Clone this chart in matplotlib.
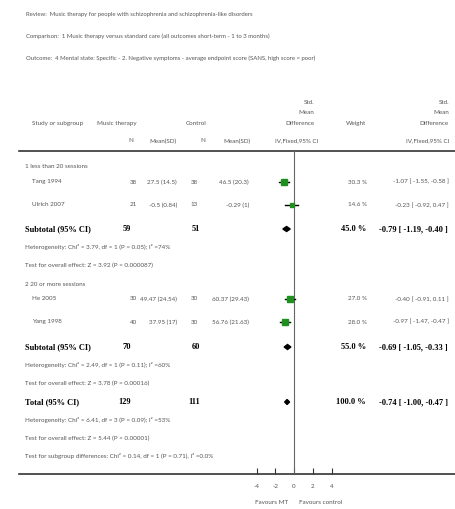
import matplotlib
matplotlib.use('Agg')
import matplotlib.pyplot as plt
from matplotlib.patches import Polygon

# studies
studies = ['Tang 1994', 'Ulrich 2007', 'He 2005', 'Yang 1998']
mt_n = [38, 21, 30, 40]
mt_mean_sd = ['27.5 (14.5)', '-0.5 (0.84)', '49.47 (24.54)', '37.95 (17)']
ctl_n = [38, 13, 30, 30]
ctl_mean_sd = ['46.5 (20.3)', '-0.29 (1)', '60.37 (29.43)', '56.76 (21.63)']
smd = [-1.07, -0.23, -0.40, -0.97]
ci_lo = [-1.55, -0.92, -0.91, -1.47]
ci_hi = [-0.58, 0.47, 0.11, -0.47]
weight = [30.3, 14.6, 27.0, 28.0]

# subtotals + total
pooled_names = ['Subtotal (95% CI)', 'Subtotal (95% CI)', 'Total (95% CI)']
pooled_mt_n = [59, 70, 129]
pooled_ctl_n = [51, 60, 111]
pooled_smd = [-0.79, -0.69, -0.74]
pooled_lo = [-1.19, -1.05, -1.00]
pooled_hi = [-0.40, -0.33, -0.47]
pooled_w = [45.0, 55.0, 100.0]

groups = ['1 less than 20 sessions', '2 20 or more sessions']
stats = [
    ['Heterogeneity: Chi² = 3.79, df = 1 (P = 0.05); I² =74%',
     'Test for overall effect: Z = 3.92 (P = 0.000087)'],
    ['Heterogeneity: Chi² = 2.49, df = 1 (P = 0.11); I² =60%',
     'Test for overall effect: Z = 3.78 (P = 0.00016)'],
    ['Heterogeneity: Chi² = 6.41, df = 3 (P = 0.09); I² =53%',
     'Test for overall effect: Z = 5.44 (P < 0.00001)',
     'Test for subgroup differences: Chi² = 0.14, df = 1 (P = 0.71), I² =0.0%'],
]

header_lines = [
    'Review:  Music therapy for people with schizophrenia and schizophrenia-like disorders',
    'Comparison:  1 Music therapy versus standard care (all outcomes short-term - 1 to 3 months)',
    'Outcome:  4 Mental state: Specific - 2. Negative symptoms - average endpoint score (SANS, high score = poor)',
]

xticks = [-4, -2, 0, 2, 4]
xtick_labels = ['-4', '-2', '0', '2', '4']

# layout (pixel rows)
study_y = [182, 205, 299, 322]
group_y = [166, 284]
pooled_y = [229, 347, 402]
stat_y = [[247, 265], [365, 383], [420, 438, 456]]
axis_y = 474

SANS = 'Lato'
SERIF = 'Liberation Serif'
GREY = '#555555'
fs = 4.5
fsb = 6.0

W, H = 455, 509
fig = plt.figure(figsize=(W / 100, H / 100), dpi=100)
bg = fig.add_axes([0, 0, 1, 1])
bg.set_xlim(0, W)
bg.set_ylim(H, 0)
bg.axis('off')

def t(x, y, s, ha='left', bold=False, size=None, color=GREY):
    if bold:
        bg.text(x, y, s, ha=ha, va='center', family=SERIF, weight='bold',
                fontsize=size or fsb, color='black')
    else:
        bg.text(x, y, s, ha=ha, va='center', family=SANS,
                fontsize=size or fs, color=color)

for yy, s in zip([14, 36, 58], header_lines):
    t(26, yy, s, size=4.3)

# column header
t(32, 123, 'Study or subgroup')
t(97, 123, 'Music therapy')
t(186, 123, 'Control')
t(314, 102, 'Std.', ha='right')
t(314, 112, 'Mean', ha='right')
t(314, 123, 'Difference', ha='right')
t(366, 123, 'Weight', ha='right')
t(449, 102, 'Std.', ha='right')
t(449, 112, 'Mean', ha='right')
t(449, 123, 'Difference', ha='right')
t(133, 141, 'N', ha='right')
t(149, 141, 'Mean(SD)')
t(205, 141, 'N', ha='right')
t(223, 141, 'Mean(SD)')
t(318, 141, 'IV,Fixed,95% CI', ha='right')
t(449, 141, 'IV,Fixed,95% CI', ha='right')

bg.plot([19, 455], [151, 151], color='#333333', lw=1.2)
bg.plot([19, 455], [axis_y, axis_y], color='#333333', lw=1.2)

for yy, g in zip(group_y, groups):
    t(25, yy, g)

for i, name in enumerate(studies):
    yy = study_y[i]
    t(32, yy, name)
    t(137, yy, str(mt_n[i]), ha='right')
    t(177, yy, mt_mean_sd[i], ha='right')
    t(198, yy, str(ctl_n[i]), ha='right')
    t(249, yy, ctl_mean_sd[i], ha='right')
    t(367, yy, f'{weight[i]:.1f} %', ha='right')
    t(449, yy, f'{smd[i]:.2f} [ {ci_lo[i]:.2f}, {ci_hi[i]:.2f} ]', ha='right')

for i, name in enumerate(pooled_names):
    yy = pooled_y[i]
    t(25, yy, name, bold=True)
    t(131, yy, str(pooled_mt_n[i]), ha='right', bold=True)
    t(200, yy, str(pooled_ctl_n[i]), ha='right', bold=True)
    t(366, yy, f'{pooled_w[i]:.1f} %', ha='right', bold=True)
    t(448, yy, f'{pooled_smd[i]:.2f} [ {pooled_lo[i]:.2f}, {pooled_hi[i]:.2f} ]',
      ha='right', bold=True)
    for yy2, s in zip(stat_y[i], stats[i]):
        t(25, yy2, s)

# forest panel: x in SMD units, y in pixel rows
x0, x1 = 219, 369
ax = fig.add_axes([x0 / W, 1 - axis_y / H, (x1 - x0) / W, (axis_y - 151) / H])
ax.set_xlim(-8, 8)
ax.set_ylim(axis_y, 151)
ax.patch.set_alpha(0)
for sp in ax.spines.values():
    sp.set_visible(False)
ax.axvline(0, color='#666666', lw=0.8)

for i in range(len(studies)):
    ax.plot([ci_lo[i], ci_hi[i]], [study_y[i]] * 2, color='black', lw=1.0)
    ax.plot(smd[i], study_y[i], marker='s', ms=0.8 * weight[i] ** 0.5,
            color='#1f8f1f', mec='#1f8f1f', ls='none')

for i in range(len(pooled_names)):
    yy = pooled_y[i]
    ax.add_patch(Polygon([[pooled_lo[i], yy], [pooled_smd[i], yy - 2.5],
                          [pooled_hi[i], yy], [pooled_smd[i], yy + 2.5]],
                         closed=True, color='black'))

ax.set_yticks([])
ax.set_xticks(xticks)
ax.set_xticklabels(xtick_labels, family=SANS, fontsize=fs, color=GREY)
ax.tick_params(axis='x', direction='in', length=4, width=0.8, color='#333333', pad=7)

t(272, 503, 'Favours MT', ha='center')
t(321, 503, 'Favours control', ha='center')

fig.savefig('out.png', dpi=100)
